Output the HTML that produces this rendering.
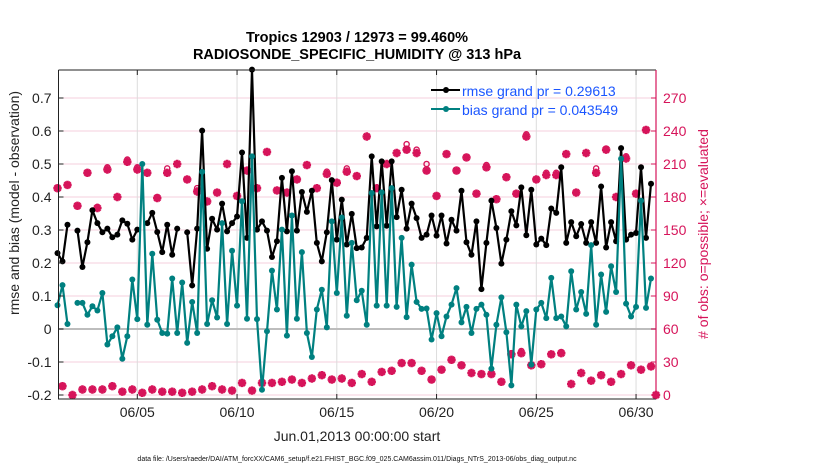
<!DOCTYPE html>
<html><head><meta charset="utf-8"><style>
html,body{margin:0;padding:0;background:#fff;}
svg{display:block;font-family:"Liberation Sans",Arial,sans-serif;}
</style></head><body>
<svg id="chart" width="830" height="470" viewBox="0 0 830 470" xmlns="http://www.w3.org/2000/svg">
<rect x="0" y="0" width="830" height="470" fill="#fff"/>
<text x="357" y="42" font-size="14.5" font-weight="bold" text-anchor="middle">Tropics 12903 / 12973 = 99.460%</text>
<text x="357" y="59" font-size="14.5" font-weight="bold" text-anchor="middle">RADIOSONDE_SPECIFIC_HUMIDITY @ 313 hPa</text>
<g id="grid"></g>
<g id="marks"></g>
<g id="axes"></g>
<text transform="translate(19,203) rotate(-90)" font-size="14" text-anchor="middle" fill="#222">rmse and bias (model - observation)</text>
<text transform="translate(708,234) rotate(-90)" font-size="14" text-anchor="middle" fill="#d6145a"># of obs: o=possible; ×=evaluated</text>
<text x="357" y="441" font-size="14" text-anchor="middle" fill="#222">Jun.01,2013 00:00:00 start</text>
<text x="357" y="461" font-size="7" text-anchor="middle" fill="#111">data file: /Users/raeder/DAI/ATM_forcXX/CAM6_setup/f.e21.FHIST_BGC.f09_025.CAM6assim.011/Diags_NTrS_2013-06/obs_diag_output.nc</text>
<g>
<line x1="431" y1="90" x2="460" y2="90" stroke="#000" stroke-width="2"/><circle cx="446" cy="90" r="3" fill="#000"/>
<text x="462" y="96" font-size="14" fill="#1a55ff">rmse grand pr = 0.29613</text>
<line x1="431" y1="109" x2="460" y2="109" stroke="#008080" stroke-width="2"/><circle cx="446" cy="109" r="3" fill="#008080"/>
<text x="462" y="115" font-size="14" fill="#1a55ff">bias grand pr = 0.043549</text>
</g>
</svg>
<script>
const rmse=[0.230,0.205,0.316,null,0.298,0.188,0.263,0.360,0.321,0.293,0.304,0.278,0.286,0.329,0.319,0.271,0.301,null,0.321,0.352,0.294,0.233,0.316,0.225,0.304,null,0.293,0.132,0.304,0.601,0.243,0.334,0.301,0.380,0.296,0.321,0.341,0.535,0.276,0.786,0.301,0.326,0.298,0.218,0.266,0.458,0.296,0.478,0.298,0.415,0.355,0.419,0.261,0.205,0.293,0.451,0.271,0.392,0.256,0.349,0.245,0.247,0.276,0.523,0.311,0.508,0.313,0.508,0.339,0.422,0.304,0.380,0.336,0.276,0.286,0.344,0.283,0.344,0.259,0.331,0.298,0.419,0.263,0.225,0.326,0.121,0.261,0.389,0.306,0.198,0.271,0.357,0.314,0.429,0.284,0.422,0.256,0.274,0.254,0.365,0.352,0.490,0.261,0.324,0.281,0.318,0.261,0.324,0.261,0.432,0.247,0.324,0.266,0.548,0.271,0.286,0.291,0.490,0.276,0.440];
const bias=[0.072,0.133,0.015,null,0.079,0.079,0.043,0.069,0.056,0.109,-0.047,-0.022,0.005,-0.090,-0.022,0.150,0.030,0.500,0.013,0.228,0.028,-0.012,-0.014,0.153,-0.012,0.141,-0.042,0.082,-0.012,0.476,0.015,0.087,0.035,0.321,0.015,0.237,0.071,0.387,0.031,0.523,0.030,-0.184,-0.007,0.177,0.059,0.301,-0.020,0.344,0.031,0.233,-0.012,-0.085,0.059,0.119,0.005,0.326,0.109,0.338,0.040,0.261,0.087,0.116,0.013,0.412,0.071,0.414,0.071,0.427,0.067,0.276,0.036,0.195,0.082,0.061,0.062,-0.032,0.048,-0.022,0.038,0.074,0.124,0.020,0.067,-0.012,0.061,0.074,0.043,-0.120,0.013,0.096,-0.010,-0.171,0.074,0.008,0.054,-0.108,0.059,0.079,0.033,0.155,0.033,0.038,0.008,0.175,0.059,0.112,0.046,0.254,0.013,0.165,0.052,0.190,0.112,0.516,0.077,0.038,0.067,0.389,0.064,0.153];
const nEvaluated=[188,8,191,0,172,5,202,5,170,5,205,8,180,3,212,5,205,2,202,5,179,3,202,3,210,2,196,3,185,5,176,8,184,5,210,4,181,11,204,4,188,11,221,11,186,12,184,14,196,11,209,15,188,18,201,14,193,15,203,11,199,19,235,12,188,21,210,22,220,29,223,29,220,22,204,14,181,23,219,32,204,27,216,20,183,19,207,19,178,12,198,37,183,38,235,27,196,28,200,37,200,38,219,10,184,20,220,13,202,18,223,12,180,19,215,27,183,23,241,26,0];
const nPossible=[188,8,191,0,172,5,202,5,171,5,207,8,180,3,214,5,207,2,202,5,180,3,206,3,210,2,196,3,188,5,176,8,184,5,210,4,181,11,204,4,188,11,221,11,186,12,184,14,196,11,209,15,188,18,203,14,193,15,206,11,199,19,235,12,188,21,210,22,220,29,228,29,223,22,210,14,181,23,219,32,204,27,216,20,183,19,209,19,178,12,198,38,183,40,237,27,196,28,202,37,202,39,219,10,184,20,220,13,206,18,224,12,180,19,217,27,183,23,241,26,0];
const leftTicks=[-0.2,-0.1,0,0.1,0.2,0.3,0.4,0.5,0.6,0.7];
const rightTicks=[0,30,60,90,120,150,180,210,240,270];
const dayTicks=[5,10,15,20,25,30];
const dayLabels=["06/05","06/10","06/15","06/20","06/25","06/30"];

const NS="http://www.w3.org/2000/svg";
const X0=58.5,X1=656,Y0=70,Y1=399;
function xS(d){return 57.5+(d-1)*19.95;}
function yL(v){return 329-v*330;}
function yR(c){return 395-c*1.1;}
function dayOf(i){return 1+i*0.25;}
function mk(tag,attrs,parent){const e=document.createElementNS(NS,tag);for(const k in attrs)e.setAttribute(k,attrs[k]);parent.appendChild(e);return e;}
const grid=document.getElementById('grid'),marks=document.getElementById('marks'),axes=document.getElementById('axes');

rightTicks.forEach(t=>{const y=yR(t);if(y>Y0&&y<Y1){const l=mk('line',{x1:X0,x2:X1,y1:y,y2:y,stroke:'#f6cfdc','stroke-width':1},grid);

}});
dayTicks.forEach(d=>{const x=xS(d);const l=mk('line',{x1:x,x2:x,y1:Y0,y2:Y1,stroke:'#dcdcdc','stroke-width':1},grid);

});
const zl=mk('line',{x1:X0,x2:X1,y1:yL(0),y2:yL(0),stroke:'#bdbdbd','stroke-width':2},grid);



nPossible.forEach((c,i)=>{if(c!==nEvaluated[i]){const ci=mk('circle',{cx:xS(dayOf(i)),cy:yR(c),r:2.6,fill:'none',stroke:'#d6145a','stroke-width':1.4},marks);

}});
nEvaluated.forEach((c,i)=>{const x=xS(dayOf(i)),y=yR(c),s=4.2;
const g=mk('path',{d:`M${x-s},${y}L${x+s},${y}M${x},${y-s}L${x},${y+s}M${x-3},${y-3}L${x+3},${y+3}M${x-3},${y+3}L${x+3},${y-3}`,stroke:'#d6145a','stroke-width':2.6,fill:'none'},marks);

});

function series(arr,color,name){
  let d='',pen=false;
  arr.forEach((v,i)=>{if(v===null){pen=false;return;}const x=xS(dayOf(i)),y=yL(v);d+=(pen?'L':'M')+x.toFixed(1)+','+y.toFixed(1);pen=true;});
  const p=mk('path',{d:d,fill:'none',stroke:color,'stroke-width':2.2,'stroke-linejoin':'round'},marks);
  
  
  arr.forEach((v,i)=>{if(v===null)return;const c=mk('circle',{cx:xS(dayOf(i)),cy:yL(v),r:3,fill:color},marks);
  
  });
}
series(rmse,'#000','rmse');
series(bias,'#008080','bias');

const fr=mk('path',{d:`M${X0},${Y0}L${X1},${Y0}M${X0},${Y0}L${X0},${Y1}L${X1},${Y1}`,stroke:'#222','stroke-width':1,fill:'none'},axes);


const ra=mk('line',{x1:X1,x2:X1,y1:Y0,y2:Y1,stroke:'#d6145a','stroke-width':1.2},axes);


leftTicks.forEach(t=>{const y=yL(t);mk('line',{x1:X0,x2:X0+5,y1:y,y2:y,stroke:'#222'},axes);
const tx=mk('text',{x:X0-7,y:y+5,'font-size':14,'text-anchor':'end',fill:'#222'},axes);tx.textContent=String(t);

});
rightTicks.forEach(t=>{const y=yR(t);mk('line',{x1:X1-5,x2:X1,y1:y,y2:y,stroke:'#d6145a'},axes);
const tx=mk('text',{x:X1+7,y:y+5,'font-size':14,fill:'#d6145a'},axes);tx.textContent=String(t);

});
dayTicks.forEach((d,k)=>{const x=xS(d);mk('line',{x1:x,x2:x,y1:Y1,y2:Y1-5,stroke:'#222'},axes);mk('line',{x1:x,x2:x,y1:Y0,y2:Y0+5,stroke:'#222'},axes);
const tx=mk('text',{x:x,y:Y1+18,'font-size':14,'text-anchor':'middle',fill:'#222'},axes);tx.textContent=dayLabels[k];

});
</script>
</body></html>
